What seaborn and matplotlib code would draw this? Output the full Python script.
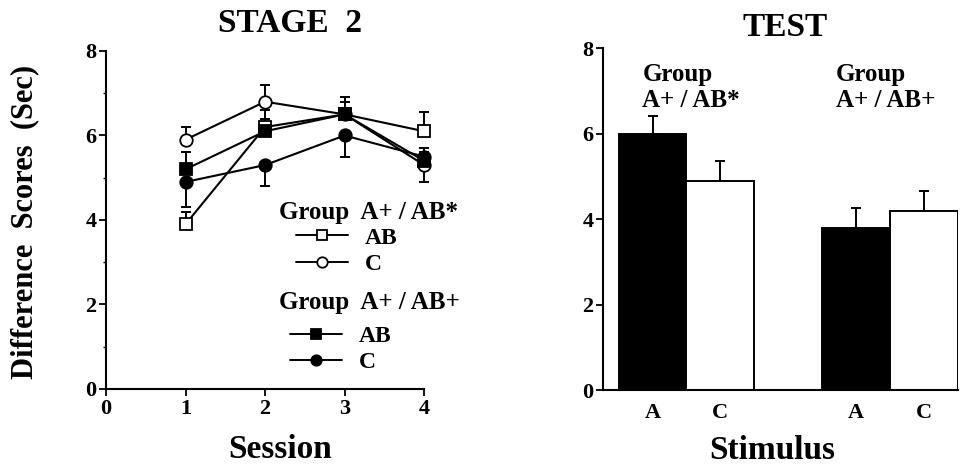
import matplotlib
matplotlib.use("Agg")
import matplotlib.pyplot as plt
from matplotlib.lines import Line2D
from matplotlib.ticker import MultipleLocator
import seaborn as sns
import numpy as np
import pandas as pd

# Stage 2 data (session means, one-sided SEM)
sessions = [1, 2, 3, 4]
ab_star_ab = [3.9, 6.2, 6.5, 6.1]
ab_star_ab_err = [0.3, 0.4, 0.4, 0.45]
ab_star_c = [5.9, 6.8, 6.5, 5.3]
ab_star_c_err = [0.3, 0.4, 0.3, 0.4]
ab_plus_ab = [5.2, 6.1, 6.5, 5.4]
ab_plus_ab_err = [0.4, 0.3, 0.3, 0.2]
ab_plus_c = [4.9, 5.3, 6.0, 5.5]
ab_plus_c_err = [0.6, 0.5, 0.5, 0.2]

# Test data
test_group = ["A+ / AB*", "A+ / AB*", "A+ / AB+", "A+ / AB+"]
test_stim = ["A", "C", "A", "C"]
test_vals = [6.0, 4.9, 3.8, 4.2]
test_err = [0.4, 0.45, 0.45, 0.45]

sns.set_style("ticks")
plt.rcParams["font.family"] = ["Liberation Serif", "DejaVu Serif"]
plt.rcParams["font.weight"] = "bold"
for key in ["text.color", "axes.labelcolor", "xtick.color", "ytick.color", "axes.edgecolor"]:
    plt.rcParams[key] = "black"

fig = plt.figure(figsize=(9.67, 4.69), dpi=100)
ax1 = fig.add_axes([0.1096, 0.1706, 0.329, 0.7207])
ax2 = fig.add_axes([0.6236, 0.1684, 0.367, 0.729])

# ---- Stage 2 ----
series = [
    (ab_star_ab, ab_star_ab_err, "s", "white"),
    (ab_star_c, ab_star_c_err, "o", "white"),
    (ab_plus_ab, ab_plus_ab_err, "s", "black"),
    (ab_plus_c, ab_plus_c_err, "o", "black"),
]
# direction of each error bar (1 = up, -1 = down)
directions = [
    [1, 1, 1, 1],
    [1, 1, 1, -1],
    [1, 1, 1, 1],
    [-1, -1, -1, 1],
]
for (vals, errs, mk, fc), dirs in zip(series, directions):
    lo = [e if d < 0 else 0 for e, d in zip(errs, dirs)]
    hi = [e if d > 0 else 0 for e, d in zip(errs, dirs)]
    ax1.errorbar(sessions, vals, yerr=[lo, hi], fmt="none", ecolor="black",
                 elinewidth=1.4, capsize=3.8, capthick=1.4, zorder=2, clip_on=False)
    sns.lineplot(x=sessions, y=vals, ax=ax1, color="black", linewidth=1.5,
                 marker=mk, markersize=9 if mk == "o" else 8.5, markerfacecolor=fc,
                 markeredgecolor="black", markeredgewidth=1.3, zorder=3,
                 clip_on=False)

ax1.set_xlim(0, 4)
ax1.set_ylim(0, 8)
ax1.set_xticks([0, 1, 2, 3, 4])
ax1.set_yticks([0, 2, 4, 6, 8])
ax1.yaxis.set_minor_locator(MultipleLocator(1))
ax1.tick_params(axis="both", which="major", labelsize=16, length=5, width=1.3,
                direction="out", pad=2, color="black", labelcolor="black")
ax1.tick_params(axis="y", which="minor", length=2.5, width=1, color="black")
for s in ["left", "bottom"]:
    ax1.spines[s].set_linewidth(1.5)
    ax1.spines[s].set_color("black")
sns.despine(ax=ax1)
ax1.set_xlabel("Session", fontsize=24, fontweight="bold", color="black")
ax1.xaxis.set_label_coords(0.547, -0.132)
ax1.set_ylabel("Difference  Scores  (Sec)", fontsize=22, fontweight="bold", color="black")
ax1.yaxis.set_label_coords(-0.21, 0.495)
ax1.set_title("STAGE  2", fontsize=24, fontweight="bold", pad=14, x=0.579, color="black")


def handle(mk, fc):
    return Line2D([], [], color="black", linewidth=1.4, marker=mk, markersize=7.5,
                  markerfacecolor=fc, markeredgecolor="black", markeredgewidth=1.3)


leg_kw = dict(frameon=False, handlelength=2.2, handletextpad=0.7, labelspacing=0.2,
              borderpad=0, borderaxespad=0, loc="center left", labelcolor="black",
              prop={"size": 17, "weight": "bold"})
leg1 = ax1.legend([handle("s", "white"), handle("o", "white")], ["AB", "C"],
                  bbox_to_anchor=(0.597, 0.408), **leg_kw)
ax1.add_artist(leg1)
ax1.legend([handle("s", "black"), handle("o", "black")], ["AB", "C"],
           bbox_to_anchor=(0.579, 0.117), **leg_kw)
ax1.text(0.545, 0.521, "Group  A+ / AB*", transform=ax1.transAxes, fontsize=18,
         fontweight="bold", ha="left", va="center", color="black")
ax1.text(0.545, 0.257, "Group  A+ / AB+", transform=ax1.transAxes, fontsize=18,
         fontweight="bold", ha="left", va="center", color="black")

# ---- Test ----
df = pd.DataFrame({"group": test_group, "stim": test_stim, "val": test_vals, "err": test_err})
df["slot"] = df["group"] + " " + df["stim"]
order = [df["slot"][0], df["slot"][1], "", df["slot"][2], df["slot"][3]]
sns.barplot(data=df, x="slot", y="val", hue="stim", order=order,
            palette={"A": "black", "C": "white"}, dodge=False, width=1,
            edgecolor="black", linewidth=1.4, errorbar=None, legend=False, ax=ax2)
pos = [order.index(s) for s in df["slot"]]
ax2.errorbar(pos, df["val"], yerr=[np.zeros(len(df)), df["err"]], fmt="none",
             ecolor="black", elinewidth=1.4, capsize=3.8, capthick=1.4, zorder=0)
ax2.set_xlim(-0.73, 4.5)
ax2.set_ylim(0, 8)
ax2.set_yticks([0, 2, 4, 6, 8])
ax2.set_xticks(pos)
ax2.set_xticklabels(test_stim)
ax2.tick_params(axis="y", labelsize=16, length=5, width=1.3, direction="out", pad=2,
                color="black", labelcolor="black")
ax2.tick_params(axis="x", labelsize=16, length=0, pad=9, labelcolor="black")
for s in ["left", "bottom"]:
    ax2.spines[s].set_linewidth(1.5)
    ax2.spines[s].set_color("black")
sns.despine(ax=ax2)
ax2.set_xlabel("Stimulus", fontsize=24, fontweight="bold", color="black")
ax2.xaxis.set_label_coords(0.476, -0.133)
ax2.set_ylabel("")
ax2.set_title("TEST", fontsize=24, fontweight="bold", pad=9, x=0.513, color="black")
for g, dx in zip(["A+ / AB*", "A+ / AB+"], [-0.15, -0.3]):
    first = pos[test_group.index(g)]
    ax2.text(first + dx, 7.08, "Group\n" + g, fontsize=18, fontweight="bold",
             ha="left", va="center", linespacing=1.2, color="black")

fig.savefig("out.png", dpi=100)
